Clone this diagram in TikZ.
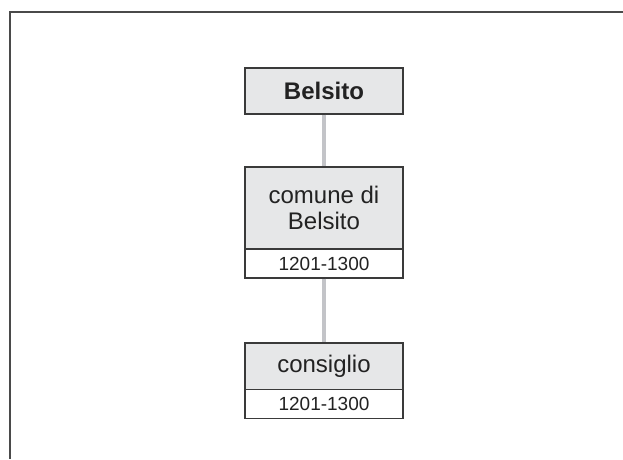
\documentclass[tikz,border=0pt]{standalone}
\usepackage{fontspec}
\setmainfont{Liberation Sans}
\definecolor{boxline}{HTML}{3A3A3A}
\definecolor{boxfill}{HTML}{E6E7E8}
\definecolor{txt}{HTML}{222222}
\definecolor{linkgray}{HTML}{C3C4C8}
\definecolor{framegray}{HTML}{4A4A4A}
\begin{document}
\begin{tikzpicture}[x=1pt,y=-1pt,
  box/.style={draw=boxline, line width=1.3pt, fill=boxfill, minimum width=158pt,
    inner sep=0pt, align=center, text=txt, font=\fontsize{24}{26}\selectfont},
  datebox/.style={draw=boxline, line width=1.3pt, fill=white, minimum width=158pt,
    minimum height=29pt, inner sep=0pt, text=txt, font=\fontsize{19}{21}\selectfont},
  link/.style={draw=linkgray, line width=4pt},
  frame/.style={draw=framegray, line width=1.5pt}]
\useasboundingbox (0,0) rectangle (623,459);
\coordinate (ftr) at (623,12);
\coordinate (ftl) at (10,12);
\coordinate (fbl) at (10,459);
\draw[frame] (ftr) -- (ftl) -- (fbl);
\node[box, minimum height=46pt, font={\fontsize{24}{26}\selectfont\bfseries}] (belsito) at (324,91) {Belsito};
\node[box, minimum height=82pt] (comune) at (324,208) {comune di\\Belsito};
\node[datebox] (comunedate) at (324,263.5) {1201-1300};
\node[box, minimum height=47pt] (consiglio) at (324,366.5) {consiglio};
\node[datebox] (consigliodate) at (324,404) {1201-1300};
\draw[link] (belsito.south) -- (comune.north);
\draw[link] (comunedate.south) -- (consiglio.north);
\end{tikzpicture}
\end{document}
